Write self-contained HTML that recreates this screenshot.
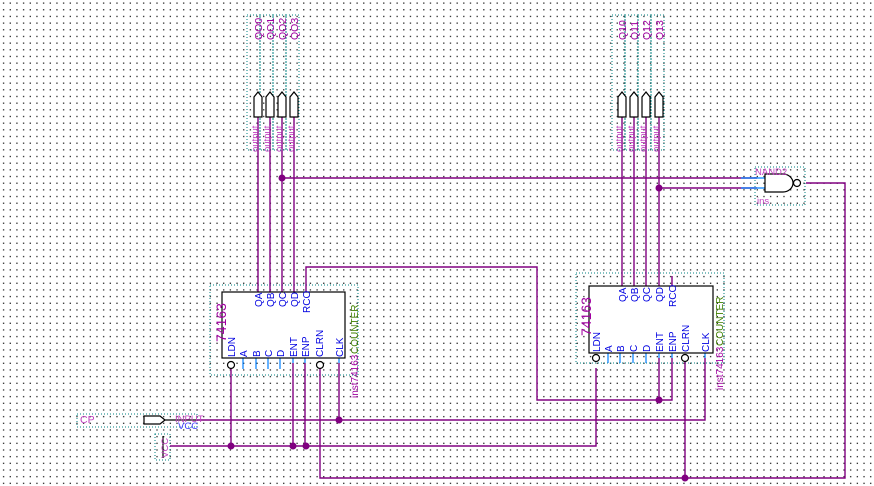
<!DOCTYPE html>
<html><head><meta charset="utf-8"><style>
html,body{margin:0;padding:0;background:#fff;}
svg{display:block;}
text{font-family:"Liberation Sans",sans-serif;}
</style></head><body>
<svg width="874" height="486" viewBox="0 0 874 486" xmlns="http://www.w3.org/2000/svg">
<defs>
<pattern id="g" x="0" y="0" width="6.67" height="6.67" patternUnits="userSpaceOnUse">
<rect x="3" y="2.5" width="1.2" height="1.2" fill="#000"/>
</pattern>
</defs>
<rect width="874" height="486" fill="url(#g)"/>

<g fill="none" stroke="#008080" stroke-width="1" stroke-dasharray="1,2">
<rect x="247" y="15" width="13" height="135"/><rect x="260" y="15" width="13" height="135"/>
<rect x="273" y="15" width="13" height="135"/><rect x="286" y="15" width="13" height="135"/>
<rect x="612" y="15" width="13" height="135"/><rect x="625" y="15" width="13" height="135"/>
<rect x="638" y="15" width="13" height="135"/><rect x="651" y="15" width="13" height="135"/>
<rect x="210" y="285" width="148" height="90"/>
<rect x="576" y="273" width="148" height="90"/>
<rect x="755" y="167" width="50" height="38"/>
<rect x="77" y="414" width="120" height="13"/>
<rect x="155" y="434" width="15" height="26"/>
</g>

<g fill="none" stroke="#800080" stroke-width="1.4">
<path d="M258 117V292M270 117V292M282 117V292M294 117V292"/>
<path d="M622 117V286M634 117V286M646 117V286M659 117V286"/>
<path d="M282 178H757M659 188H757"/>
<path d="M806 183H845V478H320V369"/>
<path d="M685 359V478"/>
<path d="M306 292V267H537V400H672V358"/>
<path d="M659 358V400"/>
<path d="M672 286V276"/>
<path d="M197 420H705V358M339 363V420"/>
<path d="M170 446H596V368M231 369V446M293 363V446M305 363V446"/>
</g>
<g stroke="#000" stroke-width="1.2" fill="none">
<path d="M165 420H197"/>
<path d="M163 436V458"/>
</g>
<g fill="#800080">
<circle cx="282" cy="178" r="3.5"/><circle cx="659" cy="188" r="3.5"/>
<circle cx="659" cy="400" r="3.5"/><circle cx="339" cy="420" r="3.5"/>
<circle cx="231" cy="446" r="3.5"/><circle cx="293" cy="446" r="3.5"/>
<circle cx="306" cy="446" r="3.5"/><circle cx="685" cy="478" r="3.5"/>
</g>

<g stroke="#0080ff" stroke-width="1.2">
<path d="M243 358V369M256 358V369M268 358V369M280 358V369M293 358V363M305 358V363M339 358V363"/>
<path d="M608 353V363M620 353V363M633 353V363M646 353V363M659 353V358M672 353V358M705 353V358"/>
<path d="M741 178H765M741 188H765"/>
</g>

<g fill="#fff" stroke="#000" stroke-width="1.2">
<path d="M254 117V97L258 92L262 97V117Z"/><path d="M266 117V97L270 92L274 97V117Z"/>
<path d="M278 117V97L282 92L286 97V117Z"/><path d="M290 117V97L294 92L298 97V117Z"/>
<path d="M618 117V97L622 92L626 97V117Z"/><path d="M630 117V97L634 92L638 97V117Z"/>
<path d="M642 117V97L646 92L650 97V117Z"/><path d="M655 117V97L659 92L663 97V117Z"/>
<path d="M144 416H160L165 420L160 424H144Z"/>
<rect x="222" y="292" width="123" height="66"/>
<rect x="589" y="286" width="124" height="67"/>
<path d="M765 174H783A10 9 0 0 1 783 192H765Z"/>
<circle cx="797" cy="183" r="3.5"/>
<circle cx="231" cy="365" r="3.5"/><circle cx="320" cy="365" r="3.5"/>
<circle cx="596" cy="358" r="3.5"/><circle cx="685" cy="358" r="3.5"/>
</g>

<g font-size="10.5" fill="#a000a0">
<text transform="translate(262,40) rotate(-90)">QO0</text>
<text transform="translate(274,40) rotate(-90)">QO1</text>
<text transform="translate(286,40) rotate(-90)">QO2</text>
<text transform="translate(298,40) rotate(-90)">QO3</text>
<text transform="translate(626,40) rotate(-90)">Q10</text>
<text transform="translate(638,40) rotate(-90)">Q11</text>
<text transform="translate(650,40) rotate(-90)">Q12</text>
<text transform="translate(663,40) rotate(-90)">Q13</text>
</g>
<g font-size="9.5" fill="#c040c0">
<text transform="translate(258,152) rotate(-90)">output</text>
<text transform="translate(270,152) rotate(-90)">output</text>
<text transform="translate(282,152) rotate(-90)">output</text>
<text transform="translate(294,152) rotate(-90)">output</text>
<text transform="translate(622,152) rotate(-90)">output</text>
<text transform="translate(634,152) rotate(-90)">output</text>
<text transform="translate(646,152) rotate(-90)">output</text>
<text transform="translate(659,152) rotate(-90)">output</text>
<text x="755" y="175">NAND2</text>
<text x="757" y="204">ins</text>
<text x="175" y="422">INPUT</text>
<text transform="translate(168,458) rotate(-90)">VCC</text>
<text x="80" y="423" font-size="10.5">CP</text>
</g>
<text x="178" y="429" font-size="9.5" fill="#4040ff">VCC</text>

<g font-size="14" fill="#a000a0">
<text transform="translate(226,342) rotate(-90)">74163</text>
<text transform="translate(591,336) rotate(-90)">74163</text>
</g>
<g font-size="10" fill="#a000a0">
<text transform="translate(358,398) rotate(-90)">inst74163</text>
<text transform="translate(723,390) rotate(-90)">inst74163</text>
</g>
<g font-size="10" fill="#408000">
<text transform="translate(358,354) rotate(-90)">COUNTER</text>
<text transform="translate(723,346) rotate(-90)">COUNTER</text>
</g>
<g font-size="10" fill="#0000e0">
<text transform="translate(262,307) rotate(-90)">QA</text>
<text transform="translate(274,307) rotate(-90)">QB</text>
<text transform="translate(286,307) rotate(-90)">QC</text>
<text transform="translate(298,307) rotate(-90)">QD</text>
<text transform="translate(310,313) rotate(-90)">RCO</text>
<text transform="translate(235,357) rotate(-90)">LDN</text>
<text transform="translate(247,357) rotate(-90)">A</text>
<text transform="translate(260,357) rotate(-90)">B</text>
<text transform="translate(272,357) rotate(-90)">C</text>
<text transform="translate(284,357) rotate(-90)">D</text>
<text transform="translate(297,357) rotate(-90)">ENT</text>
<text transform="translate(309,357) rotate(-90)">ENP</text>
<text transform="translate(323,357) rotate(-90)">CLRN</text>
<text transform="translate(343,357) rotate(-90)">CLK</text>
<text transform="translate(626,302) rotate(-90)">QA</text>
<text transform="translate(638,302) rotate(-90)">QB</text>
<text transform="translate(650,302) rotate(-90)">QC</text>
<text transform="translate(663,302) rotate(-90)">QD</text>
<text transform="translate(676,307) rotate(-90)">RCO</text>
<text transform="translate(600,352) rotate(-90)">LDN</text>
<text transform="translate(612,352) rotate(-90)">A</text>
<text transform="translate(624,352) rotate(-90)">B</text>
<text transform="translate(637,352) rotate(-90)">C</text>
<text transform="translate(650,352) rotate(-90)">D</text>
<text transform="translate(663,352) rotate(-90)">ENT</text>
<text transform="translate(676,352) rotate(-90)">ENP</text>
<text transform="translate(689,352) rotate(-90)">CLRN</text>
<text transform="translate(709,352) rotate(-90)">CLK</text>
</g>
</svg>
</body></html>
